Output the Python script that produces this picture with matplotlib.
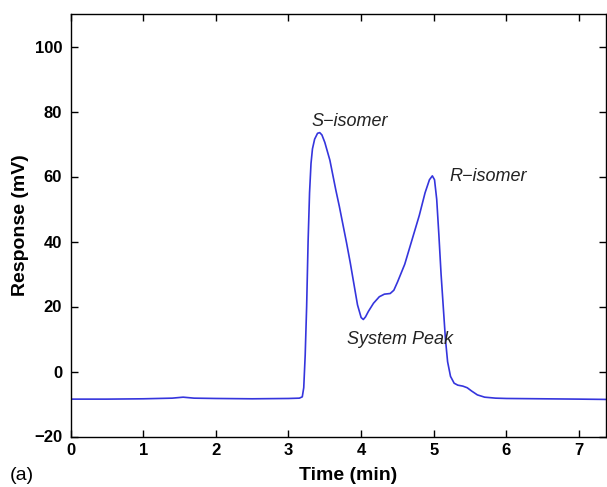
import matplotlib
matplotlib.use("Agg")
import matplotlib.pyplot as plt

time_min = [0.00, 0.50, 1.00, 1.40, 1.55, 1.70, 2.00, 2.50, 3.00, 3.15, 3.19, 3.21, 3.23, 3.25,
            3.27, 3.29, 3.31, 3.33, 3.36, 3.40, 3.43, 3.46, 3.50, 3.57, 3.65, 3.70, 3.80, 3.85,
            3.90, 3.95, 4.00, 4.03, 4.06, 4.10, 4.17, 4.25, 4.32, 4.40, 4.45, 4.50, 4.60, 4.70,
            4.80, 4.88, 4.94, 4.98, 5.01, 5.04, 5.07, 5.10, 5.13, 5.16, 5.19, 5.23, 5.28, 5.33,
            5.40, 5.46, 5.52, 5.60, 5.70, 5.85, 6.00, 6.50, 7.00, 7.40]
response_mv = [-8.5, -8.5, -8.4, -8.2, -7.9, -8.2, -8.3, -8.4, -8.3, -8.2, -7.8, -5.0, 5.0, 20.0,
               40.0, 55.0, 64.0, 68.5, 71.5, 73.3, 73.5, 72.8, 70.5, 65.0, 56.0, 50.8, 39.5, 33.5,
               27.0, 20.5, 16.6, 16.0, 16.8, 18.5, 21.0, 23.0, 23.8, 24.0, 25.0, 27.5, 33.0, 40.5,
               48.0, 55.0, 59.0, 60.2, 59.0, 53.0, 42.0, 30.0, 20.0, 10.0, 3.0, -1.5, -3.6, -4.2,
               -4.5, -5.0, -6.0, -7.2, -7.9, -8.2, -8.3, -8.4, -8.5, -8.6]

annot_text = ["S\u2212isomer", "R\u2212isomer", "System Peak"]
annot_x = [3.32, 5.21, 3.81]
annot_y = [77.0, 60.0, 10.0]

x_ticks = [0, 1, 2, 3, 4, 5, 6, 7]
y_ticks = [-20, 0, 20, 40, 60, 80, 100]

plt.rcParams['font.family'] = ['Liberation Sans', 'DejaVu Sans']

W, H = 607, 487
fig = plt.figure(figsize=(W / 100, H / 100), dpi=100)
ax = fig.add_axes([70.5 / W, (H - 436.5) / H, (606 - 70.5) / W, (436.5 - 14) / H])
ax.plot(time_min, response_mv, color='#3535dd', lw=1.2)
ax.set_xlim(0, 7.37)
ax.set_ylim(-20, 110)
ax.set_xticks(x_ticks)
ax.set_yticks(y_ticks)
ax.set_yticklabels(['\u221220' if v == -20 else str(v) for v in y_ticks])
ax.tick_params(direction='in', top=True, right=True, length=5, width=1,
               labelsize=12)
ax.tick_params(axis='y', pad=6)
ax.tick_params(axis='x', pad=4.5)
for lab in ax.get_xticklabels() + ax.get_yticklabels():
    lab.set_fontweight('bold')
for s in ax.spines.values():
    s.set_linewidth(1.0)

ax.set_xlabel('Time (min)', fontsize=14, fontweight='bold')
ax.set_ylabel('Response (mV)', fontsize=14, fontweight='bold')
ax.xaxis.set_label_coords((348.5 - 70.5) / (606 - 70.5), -(475 - 436.5) / (436.5 - 14))
ax.xaxis.label.set_va('center')
ax.yaxis.set_label_coords(-(70.5 - 21) / (606 - 70.5), 0.5)
ax.yaxis.label.set_va('center')

for t, x, y in zip(annot_text, annot_x, annot_y):
    ax.text(x, y, t, fontsize=13, style='italic', va='center', ha='left', color='#222222')

fig.text(10 / W, 1 - 476 / H, '(a)', fontsize=14, ha='left', va='center')

fig.savefig('out.png', dpi=100)
